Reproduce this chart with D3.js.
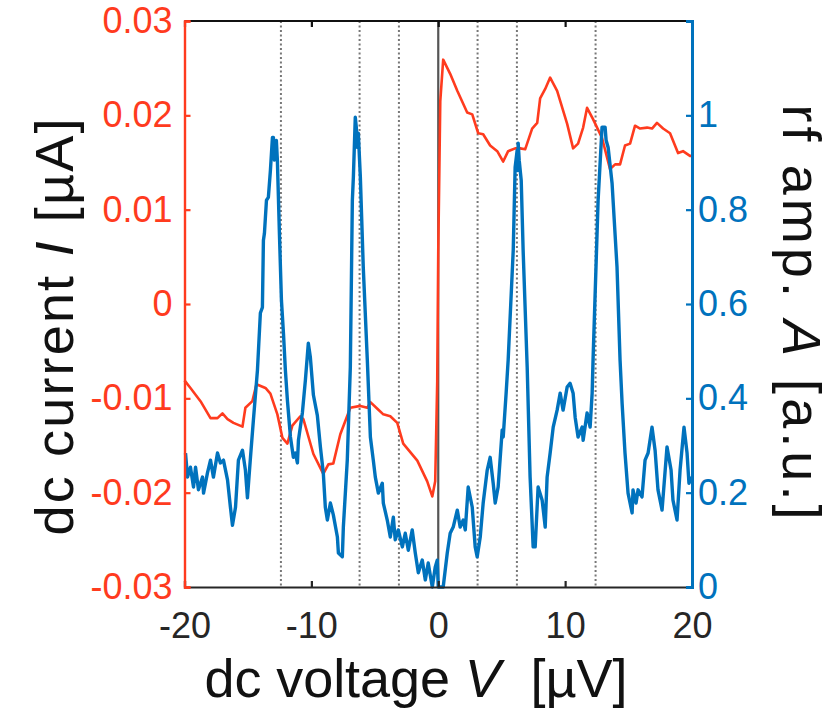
<!DOCTYPE html>
<html>
<head>
<meta charset="utf-8">
<script src="https://cdn.jsdelivr.net/npm/d3@7/dist/d3.min.js"></script>
<style>
  html, body { margin: 0; padding: 0; background: #fff; }
  svg { display: block; }
  text { font-family: "Liberation Sans", Arial, Helvetica, sans-serif; }
</style>
</head>
<body>
<svg id="chart" width="835" height="709"></svg>
<script>
// ---- data ----
const currentV = [-20.0,-19.53,-18.74,-17.95,-17.40,-17.01,-16.61,-16.14,-15.43,-15.20,-14.65,-14.33,-13.62,-13.23,-12.68,-12.28,-11.89,-11.50,-10.87,-10.63,-9.84,-9.06,-8.66,-8.27,-7.72,-6.93,-6.14,-5.59,-5.35,-4.80,-4.33,-3.78,-3.23,-2.76,-1.65,-0.87,-0.47,-0.24,-0.08,0.0,0.16,0.39,0.94,1.50,2.28,2.68,3.15,3.54,4.09,4.65,5.12,5.51,6.06,6.46,6.85,7.40,7.80,8.03,8.43,8.82,9.37,10.16,10.63,11.02,11.42,11.73,12.20,12.91,13.54,13.94,14.33,14.72,15.12,15.51,15.91,16.46,16.85,17.24,17.72,18.27,18.90,19.29,19.84,20.0];
const currentI = [-0.0081,-0.0089,-0.0103,-0.0121,-0.0121,-0.0116,-0.0122,-0.0126,-0.0130,-0.0110,-0.0103,-0.0085,-0.0089,-0.0095,-0.0117,-0.0142,-0.0148,-0.0129,-0.0119,-0.0122,-0.0159,-0.0180,-0.0170,-0.0169,-0.0138,-0.0110,-0.0108,-0.0110,-0.0104,-0.0111,-0.0117,-0.0119,-0.0126,-0.0148,-0.0166,-0.0188,-0.0204,-0.0188,-0.0082,0.0056,0.0215,0.0259,0.0244,0.0226,0.0203,0.0201,0.0181,0.0180,0.0168,0.0162,0.0151,0.0162,0.0165,0.0165,0.0164,0.0186,0.0192,0.0218,0.0228,0.0240,0.0226,0.0191,0.0165,0.0170,0.0187,0.0208,0.0196,0.0176,0.0143,0.0148,0.0148,0.0168,0.0170,0.0189,0.0186,0.0187,0.0186,0.0192,0.0186,0.0181,0.0160,0.0162,0.0157,0.0157];

const rfV = [-19.92,-19.76,-19.53,-19.29,-19.13,-18.90,-18.58,-18.50,-18.19,-17.95,-17.72,-17.40,-17.17,-16.93,-16.61,-16.38,-16.22,-15.98,-15.75,-15.43,-15.20,-15.04,-14.80,-14.57,-14.25,-14.02,-13.86,-13.78,-13.70,-13.54,-13.39,-13.23,-13.07,-12.99,-12.91,-12.76,-12.68,-12.52,-12.36,-12.20,-12.05,-11.89,-11.65,-11.42,-11.26,-11.10,-11.02,-10.71,-10.47,-10.24,-10.08,-9.84,-9.53,-9.29,-9.06,-8.90,-8.74,-8.50,-8.27,-7.95,-7.87,-7.56,-7.48,-7.17,-6.93,-6.77,-6.69,-6.54,-6.46,-6.38,-6.30,-6.14,-5.91,-5.59,-5.35,-5.12,-4.96,-4.72,-4.41,-4.33,-4.02,-3.78,-3.54,-3.39,-3.15,-2.83,-2.60,-2.36,-2.05,-1.81,-1.57,-1.26,-1.02,-0.79,-0.47,-0.24,-0.08,0.0,0.39,0.71,0.94,1.18,1.50,1.73,1.97,2.13,2.36,2.68,2.91,3.07,3.31,3.54,3.86,4.09,4.33,4.49,4.72,5.04,5.12,5.35,5.51,5.91,6.06,6.22,6.26,6.30,6.38,6.54,6.69,7.01,7.24,7.48,7.64,7.87,8.19,8.43,8.58,8.82,9.06,9.37,9.61,9.84,10.16,10.39,10.63,10.79,11.02,11.34,11.42,11.73,11.97,12.13,12.20,12.60,12.91,13.15,13.23,13.39,13.70,14.09,14.33,14.49,14.72,14.96,15.28,15.35,15.59,15.75,16.06,16.30,16.54,16.85,17.09,17.32,17.64,17.87,18.03,18.35,18.50,18.82,19.06,19.37,19.61,19.76,20.0];
const rfA = [0.284,0.233,0.254,0.212,0.254,0.206,0.233,0.199,0.242,0.269,0.233,0.284,0.263,0.269,0.227,0.169,0.131,0.169,0.269,0.290,0.248,0.189,0.275,0.354,0.460,0.581,0.593,0.735,0.750,0.820,0.826,0.883,0.953,0.953,0.905,0.947,0.905,0.750,0.608,0.538,0.460,0.396,0.318,0.275,0.284,0.263,0.311,0.369,0.439,0.517,0.487,0.407,0.364,0.297,0.242,0.169,0.142,0.178,0.153,0.106,0.072,0.064,0.127,0.269,0.466,0.820,0.869,0.996,0.975,0.932,0.962,0.869,0.678,0.481,0.318,0.269,0.233,0.199,0.220,0.178,0.142,0.106,0.148,0.100,0.121,0.085,0.114,0.078,0.121,0.072,0.030,0.057,0.015,0.051,0.0,0.042,0.057,0.0,0.0,0.072,0.114,0.127,0.163,0.127,0.142,0.121,0.212,0.169,0.085,0.064,0.106,0.178,0.248,0.275,0.220,0.178,0.212,0.333,0.318,0.411,0.481,0.714,0.890,0.926,0.883,0.941,0.905,0.862,0.714,0.466,0.233,0.085,0.085,0.212,0.184,0.127,0.233,0.284,0.339,0.375,0.411,0.375,0.424,0.432,0.411,0.360,0.318,0.339,0.311,0.369,0.339,0.411,0.481,0.820,0.975,0.975,0.947,0.932,0.856,0.678,0.481,0.390,0.284,0.199,0.157,0.206,0.178,0.206,0.191,0.269,0.284,0.339,0.290,0.206,0.163,0.242,0.297,0.248,0.184,0.142,0.248,0.339,0.284,0.220,0.233];

const dottedV = [-12.4, -6.2, -3.1, 3.1, 6.2, 12.4];
const zeroV = [0];
const xTicks = [-20, -10, 0, 10, 20];
const leftTicks = [-0.03, -0.02, -0.01, 0, 0.01, 0.02, 0.03];
const rightTicks = [0, 0.2, 0.4, 0.6, 0.8, 1];

// ---- layout ----
const svg = d3.select("#chart");
const L = 184.5, R = 692, T = 21, B = 587;
const RED = "#ff3b1e", BLUE = "#0072bd", DARK = "#262626";
const TICK_FS = 36;

const x = d3.scaleLinear().domain([-20, 20]).range([L, R]);
const yI = d3.scaleLinear().domain([-0.03, 0.03]).range([B, T]);
const yA = d3.scaleLinear().domain([0, 1.2]).range([B, T]);

// dotted guides
svg.append("g").selectAll("line").data(dottedV).join("line")
  .attr("x1", d => x(d)).attr("x2", d => x(d))
  .attr("y1", T).attr("y2", B)
  .attr("stroke", "#777").attr("stroke-width", 2)
  .attr("stroke-dasharray", "2,2.5");

// zero line
svg.append("g").selectAll("line").data(zeroV).join("line")
  .attr("x1", d => x(d)).attr("x2", d => x(d))
  .attr("y1", T).attr("y2", B)
  .attr("stroke", "#555").attr("stroke-width", 2.2);

// red dc current
const redLine = d3.line().x(d => x(d[0])).y(d => yI(d[1]));
svg.append("path")
  .datum(currentV.map((v, i) => [v, currentI[i]]))
  .attr("d", redLine).attr("fill", "none")
  .attr("stroke", RED).attr("stroke-width", 2.6).attr("stroke-linejoin", "round");

// blue rf amp
const blueLine = d3.line().x(d => x(d[0])).y(d => yA(d[1]));
svg.append("path")
  .datum(rfV.map((v, i) => [v, rfA[i]]))
  .attr("d", blueLine).attr("fill", "none")
  .attr("stroke", BLUE).attr("stroke-width", 3.4).attr("stroke-linejoin", "round");

// top border
svg.append("line").attr("x1", L).attr("x2", R).attr("y1", T).attr("y2", T)
  .attr("stroke", "#111").attr("stroke-width", 2.2);

// bottom axis
const xAxis = d3.axisBottom(x).tickValues(xTicks).tickSize(-6).tickPadding(25)
  .tickFormat(d3.format("d"));
const gx = svg.append("g").attr("transform", `translate(0,${B})`).call(xAxis);
gx.select(".domain").attr("stroke", DARK).attr("stroke-width", 2.2);
gx.selectAll(".tick line").attr("stroke", DARK).attr("stroke-width", 2.2);
gx.selectAll(".tick text").attr("fill", DARK).attr("font-size", TICK_FS)
  .text(d => d < 0 ? "-" + Math.abs(d) : d);
// top ticks
const xTop = d3.axisTop(x).tickValues(xTicks).tickSize(-6).tickFormat("");
const gxt = svg.append("g").attr("transform", `translate(0,${T})`).call(xTop);
gxt.select(".domain").remove();
gxt.selectAll(".tick line").attr("stroke", "#111").attr("stroke-width", 2.2);

// left axis
const yLeft = d3.axisLeft(yI).tickValues(leftTicks).tickSize(-6).tickPadding(12)
  .tickFormat(d => d === 0 ? "0" : (d < 0 ? "-" : "") + Math.abs(d).toFixed(2));
const gl = svg.append("g").attr("transform", `translate(${L},0)`).call(yLeft);
gl.select(".domain").attr("stroke", RED).attr("stroke-width", 2.4);
gl.selectAll(".tick line").attr("stroke", RED).attr("stroke-width", 2.2);
gl.selectAll(".tick text").attr("fill", RED).attr("font-size", TICK_FS);

// right axis
const yRight = d3.axisRight(yA).tickValues(rightTicks).tickSize(-6).tickPadding(6)
  .tickFormat(d => d === 0 ? "0" : d === 1 ? "1" : String(d));
const gr = svg.append("g").attr("transform", `translate(${R},0)`).call(yRight);
gr.select(".domain").attr("stroke", BLUE).attr("stroke-width", 3);
gr.selectAll(".tick line").attr("stroke", BLUE).attr("stroke-width", 2.2);
gr.selectAll(".tick text").attr("fill", BLUE).attr("font-size", TICK_FS);

// axis titles
const titleFont = "'Open Sans', 'Liberation Sans', sans-serif";
const TFS = 54;
const tx = svg.append("text").attr("x", 416).attr("y", 697)
  .attr("text-anchor", "middle").attr("font-size", TFS).attr("font-weight", 300)
  .attr("font-family", titleFont).attr("fill", "#111")
  .attr("textLength", 423).attr("lengthAdjust", "spacing");
tx.append("tspan").text("dc voltage ");
tx.append("tspan").attr("font-style", "italic").text("V");
tx.append("tspan").text("\u00a0 [µV]");

const tl = svg.append("text").attr("transform", "translate(73,327) rotate(-90)")
  .attr("text-anchor", "middle").attr("font-size", TFS).attr("font-weight", 300)
  .attr("font-family", titleFont).attr("fill", "#111")
  .attr("textLength", 417).attr("lengthAdjust", "spacing");
tl.append("tspan").text("dc current ");
tl.append("tspan").attr("font-style", "italic").text("I");
tl.append("tspan").text(" [µA]");

const tr = svg.append("text").attr("transform", "translate(783,312) rotate(90)")
  .attr("text-anchor", "middle").attr("font-size", TFS).attr("font-weight", 300)
  .attr("font-family", titleFont).attr("fill", "#111")
  .attr("textLength", 415).attr("lengthAdjust", "spacing");
tr.append("tspan").text("rf amp. ");
tr.append("tspan").attr("font-style", "italic").text("A");
tr.append("tspan").text(" [a.u.]");
</script>
</body>
</html>
